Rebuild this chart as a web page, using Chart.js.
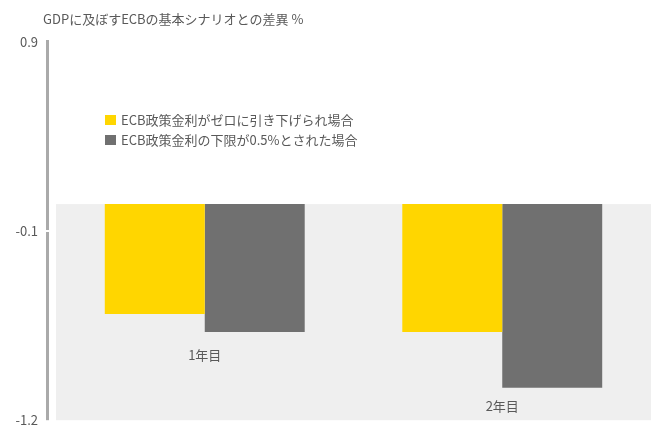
<!DOCTYPE html>
<html>
<head>
<meta charset="utf-8">
<script src="https://cdn.jsdelivr.net/npm/chart.js@4"></script>
<style>
  html, body { margin: 0; padding: 0; background: #ffffff; }
  #wrap { width: 651px; height: 428px; position: relative; }
</style>
</head>
<body>
<div id="wrap"><canvas id="c" width="651" height="428"></canvas></div>
<script>
const titleText = 'GDPに及ぼすECBの基本シナリオとの差異 %';
const categories = ['1年目', '2年目'];
const seriesNames = ['ECB政策金利がゼロに引き下げられ場合', 'ECB政策金利の下限が0.5%とされた場合'];
const seriesZero = [-0.61, -0.71];
const seriesFloor = [-0.71, -1.02];
const categoryLabelValues = [-0.84, -1.12];
const tickValues = [0.9, -0.15, -1.2];
const tickLabels = ['0.9', '-0.1', '-1.2'];

const FONT = '"Noto Sans CJK JP", "Noto Sans", sans-serif';
const TEXT = '#595959';

const decor = {
  id: 'decor',
  beforeDatasetsDraw(chart) {
    const { ctx, chartArea: a, scales: { y } } = chart;
    const y0 = y.getPixelForValue(0);
    ctx.save();
    ctx.fillStyle = '#efefef';
    ctx.fillRect(a.left, y0, a.right - a.left, a.bottom - y0);
    ctx.restore();
  },
  afterDraw(chart) {
    const { ctx, chartArea: a, scales: { x, y } } = chart;
    ctx.save();
    // axis line
    ctx.fillStyle = '#aaaaaa';
    ctx.fillRect(46, a.top - 2, 3, a.bottom - a.top + 2);
    ctx.fillStyle = '#ffffff';
    const ym = y.getPixelForValue(tickValues[1]);
    ctx.fillRect(45, Math.round(ym) - 1, 5, 2);
    // title
    ctx.fillStyle = TEXT;
    ctx.font = '13px ' + FONT;
    ctx.textBaseline = 'middle';
    ctx.textAlign = 'left';
    ctx.fillText(titleText, 43, 19);
    // legend
    const colors = chart.data.datasets.map(d => d.backgroundColor);
    chart.data.datasets.forEach((d, i) => {
      const yy = 120 + i * 20;
      ctx.fillStyle = colors[i];
      ctx.fillRect(105, yy - 5, 11, 10);
      ctx.fillStyle = TEXT;
      ctx.font = '13px ' + FONT;
      ctx.fillText(d.label, 121, yy);
    });
    // category labels
    ctx.textAlign = 'center';
    ctx.font = '13px ' + FONT;
    categories.forEach((c, i) => {
      ctx.fillStyle = TEXT;
      ctx.fillText(c, x.getPixelForValue(i), y.getPixelForValue(categoryLabelValues[i]));
    });
    ctx.restore();
  }
};

new Chart(document.getElementById('c'), {
  type: 'bar',
  data: {
    labels: categories,
    datasets: [
      { label: seriesNames[0], data: seriesZero, backgroundColor: '#ffd600' },
      { label: seriesNames[1], data: seriesFloor, backgroundColor: '#707070' }
    ]
  },
  options: {
    responsive: false,
    animation: false,
    devicePixelRatio: 1,
    layout: { padding: { top: 42, right: 0, bottom: 7, left: 0 } },
    datasets: { bar: { categoryPercentage: 0.672, barPercentage: 1.0 } },
    plugins: { legend: { display: false }, tooltip: { enabled: false }, title: { display: false } },
    scales: {
      x: { display: false, grid: { display: false } },
      y: {
        min: -1.2, max: 0.9,
        border: { display: false },
        grid: { display: false, drawTicks: true, tickLength: 18 },
        afterBuildTicks(s) { s.ticks = tickValues.map(v => ({ value: v })); },
        afterFit(s) { s.width = 56; },
        ticks: {
          color: TEXT,
          font: { size: 13, family: FONT },
          padding: 0,
          callback(v, i) { return tickLabels[tickValues.indexOf(v)] ?? ''; }
        }
      }
    }
  },
  plugins: [decor]
});
</script>
</body>
</html>
